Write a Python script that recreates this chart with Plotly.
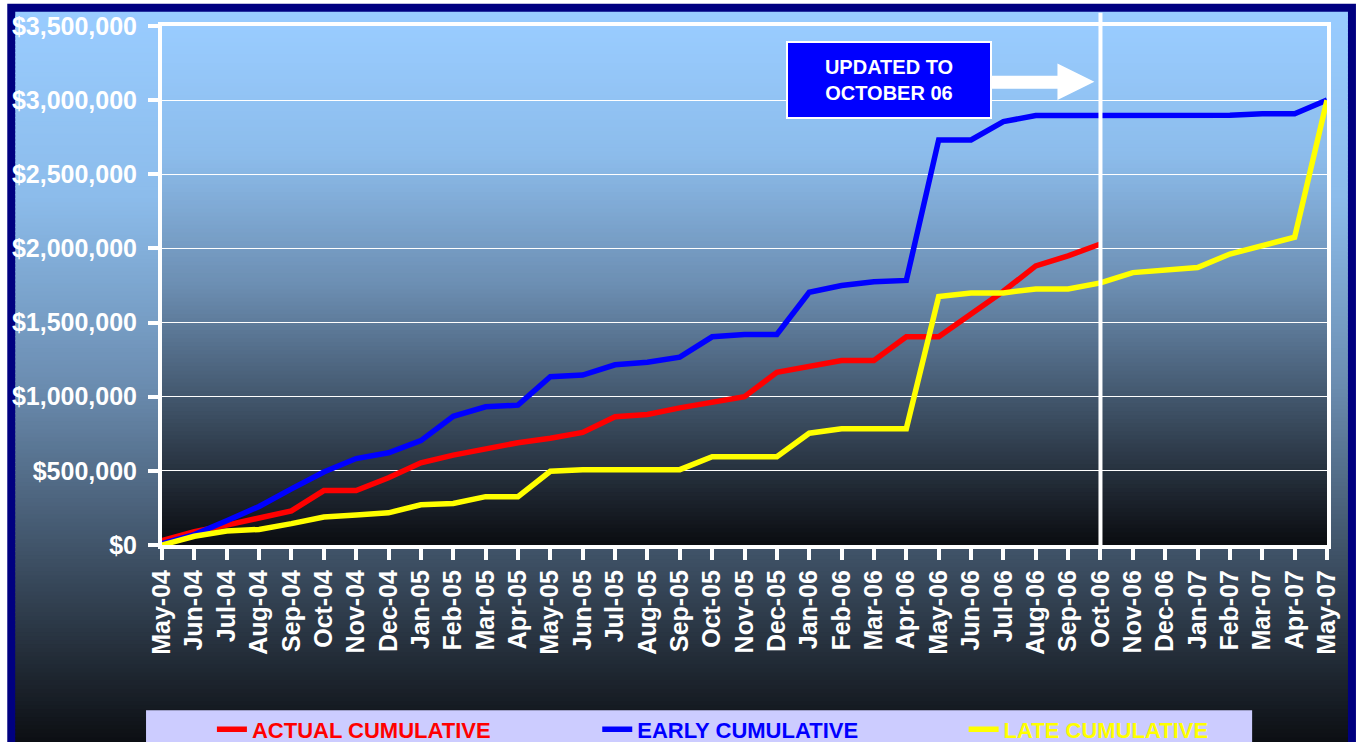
import plotly.graph_objects as go

months = ["May-04","Jun-04","Jul-04","Aug-04","Sep-04","Oct-04","Nov-04","Dec-04",
          "Jan-05","Feb-05","Mar-05","Apr-05","May-05","Jun-05","Jul-05","Aug-05",
          "Sep-05","Oct-05","Nov-05","Dec-05","Jan-06","Feb-06","Mar-06","Apr-06",
          "May-06","Jun-06","Jul-06","Aug-06","Sep-06","Oct-06","Nov-06","Dec-06",
          "Jan-07","Feb-07","Mar-07","Apr-07","May-07"]

actual_cumulative = [30000, 89000, 134000, 185000, 230000, 367000, 367000, 453000,
                     554000, 606000, 652000, 690000, 720000, 759000, 865000, 880000,
                     925000, 964000, 1000000, 1164000, 1203000, 1244000, 1244000, 1404000,
                     1404000, 1552000, 1711000, 1882000, 1950000, 2030000]

early_cumulative = [10000, 70000, 163000, 260000, 378000, 492000, 583000, 622000,
                    704000, 868000, 932000, 943000, 1135000, 1146000, 1215000, 1233000,
                    1267000, 1404000, 1420000, 1420000, 1704000, 1750000, 1775000, 1784000,
                    2732000, 2732000, 2855000, 2896000, 2896000, 2896000, 2896000, 2896000,
                    2896000, 2898000, 2908000, 2908000, 3000000]

late_cumulative = [0, 59000, 94000, 105000, 144000, 189000, 203000, 217000,
                   271000, 280000, 326000, 326000, 497000, 508000, 508000, 508000,
                   508000, 595000, 595000, 595000, 754000, 784000, 784000, 784000,
                   1675000, 1700000, 1700000, 1727000, 1727000, 1768000, 1837000, 1853000,
                   1871000, 1962000, 2019000, 2076000, 3000000]

y_ticks = [0, 500000, 1000000, 1500000, 2000000, 2500000, 3000000, 3500000]
y_tick_labels = ["$0", "$500,000", "$1,000,000", "$1,500,000", "$2,000,000",
                 "$2,500,000", "$3,000,000", "$3,500,000"]
updated_month = "Oct-06"

W = 1364
H = 762                 # page is captured taller than the target and scaled down
VS = H / 742.0
L, R, T, B = 160, 1327, 25, 537  # plot area in target pixels
FONT = "Arial, Liberation Sans, sans-serif"


def px(x):
    return (x - L) / (R - L)


def py(y):
    return (B - y) / (B - T)


stops = [(0.0, (153, 204, 255)), (0.25, (140, 188, 235)), (0.5, (108, 142, 178)),
         (0.75, (60, 78, 98)), (0.9, (30, 38, 48)), (1.0, (10, 12, 16))]


def grad(t):
    for (t0, c0), (t1, c1) in zip(stops[:-1], stops[1:]):
        if t <= t1:
            f = (t - t0) / (t1 - t0)
            return "rgb(%d,%d,%d)" % tuple(round(a + (b - a) * f) for a, b in zip(c0, c1))
    return "rgb(%d,%d,%d)" % stops[-1][1]


shapes = []
# navy frame
shapes.append(dict(type="rect", xref="paper", yref="paper", layer="below",
                   x0=px(5), x1=px(1356), y0=py(760), y1=py(3),
                   fillcolor="#000080", line=dict(width=0)))
# outer gradient
top_o, bot_o, step = 11, 738, 4
yy = top_o
while yy < bot_o:
    y2 = min(yy + step, bot_o)
    t = (yy + step / 2 - top_o) / (bot_o - top_o)
    shapes.append(dict(type="rect", xref="paper", yref="paper", layer="below",
                       x0=px(13), x1=px(1348), y0=py(min(y2 + 1, bot_o)), y1=py(yy),
                       fillcolor=grad(t), line=dict(width=0)))
    yy = y2
# plot area gradient
yy = T
while yy < B:
    y2 = min(yy + step, B)
    t = (yy + step / 2 - T) / (B - T)
    shapes.append(dict(type="rect", xref="paper", yref="paper", layer="below",
                       x0=0, x1=1, y0=py(min(y2 + 1, B)), y1=py(yy),
                       fillcolor=grad(t), line=dict(width=0)))
    yy = y2
# legend box
shapes.append(dict(type="rect", xref="paper", yref="paper", layer="below",
                   x0=px(144), x1=px(1252), y0=py(738), y1=py(700),
                   fillcolor="#CCCCFF", line=dict(width=0)))
# vertical "updated" line
shapes.append(dict(type="line", xref="x", yref="paper", layer="above",
                   x0=months.index(updated_month), x1=months.index(updated_month),
                   y0=0, y1=py(12), line=dict(color="white", width=4)))
# block arrow
pts = [(991, 74), (1057, 74), (1057, 62), (1094, 80), (1057, 98), (1057, 87), (991, 87)]
path = "M " + " L ".join("%f,%f" % (px(a), py(b)) for a, b in pts) + " Z"
shapes.append(dict(type="path", xref="paper", yref="paper", layer="above", path=path,
                   fillcolor="white", line=dict(width=0)))

fig = go.Figure()
fig.add_trace(go.Scatter(x=months[:len(actual_cumulative)], y=actual_cumulative,
                         mode="lines", name="ACTUAL CUMULATIVE",
                         line=dict(color="#FF0000", width=5.5), legend="legend"))
fig.add_trace(go.Scatter(x=months, y=early_cumulative, mode="lines",
                         name="EARLY CUMULATIVE",
                         line=dict(color="#0000FF", width=5.5), legend="legend2"))
fig.add_trace(go.Scatter(x=months, y=late_cumulative, mode="lines",
                         name="LATE CUMULATIVE",
                         line=dict(color="#FFFF00", width=5.5), legend="legend3"))


def leg(xpix, color):
    return dict(x=px(xpix), y=py(719), xanchor="left", yanchor="middle",
                orientation="h", bgcolor="rgba(0,0,0,0)", borderwidth=0,
                font=dict(family=FONT, size=22, color=color, weight="bold"))


tickfont = dict(family=FONT, size=25, color="white", weight="bold")

fig.update_layout(
    width=W, height=H, autosize=False,
    margin=dict(l=L, r=W - R, t=T * VS, b=H - B * VS, pad=0),
    paper_bgcolor="white", plot_bgcolor="rgba(0,0,0,0)",
    showlegend=True,
    legend=leg(210, "#FF0000"),
    legend2=leg(596, "#0000FF"),
    legend3=leg(963, "#FFFF00"),
    shapes=shapes,
    xaxis=dict(type="category", categoryorder="array", categoryarray=months,
               range=[0, len(months) - 1], showgrid=False, zeroline=False,
               showline=True, linecolor="white", linewidth=4, mirror=True,
               ticks="outside", ticklen=11, tickwidth=4, tickcolor="white",
               tickangle=-90, tickfont=tickfont),
    xaxis2=dict(overlaying="x", anchor="y", type="linear", range=[0, len(months) - 1],
                tickmode="array", tickvals=list(range(len(months))),
                ticks="inside", ticklen=10, tickwidth=4, tickcolor="white",
                showticklabels=False, showgrid=False, zeroline=False, showline=False),
    yaxis=dict(range=[0, 3500000], tickmode="array", tickvals=y_ticks,
               ticktext=y_tick_labels, showgrid=True, gridcolor="white",
               gridwidth=1, zeroline=False, showline=True, linecolor="white",
               linewidth=4, mirror=True, ticks="outside", ticklen=10, tickwidth=4,
               tickcolor="white", tickfont=tickfont, ticklabelstandoff=6),
    yaxis2=dict(overlaying="y", anchor="x", range=[0, 3500000], tickmode="array",
                tickvals=y_ticks, ticks="inside", ticklen=10, tickwidth=4,
                tickcolor="white", showticklabels=False, showgrid=False,
                zeroline=False, showline=False),
    annotations=[dict(xref="paper", yref="paper", x=px(888), y=py(78),
                      xanchor="center", yanchor="middle", showarrow=False,
                      text="<b>UPDATED TO<br>OCTOBER 06</b>", align="center",
                      font=dict(family=FONT, size=20, color="white"),
                      bgcolor="#0000FF", bordercolor="white", borderwidth=2,
                      borderpad=0, width=202, height=72 * VS)],
)

fig.write_html("out.html", config={"displayModeBar": False},
               post_script="document.body.style.margin='0';"
                           "document.documentElement.style.overflow='hidden';")
